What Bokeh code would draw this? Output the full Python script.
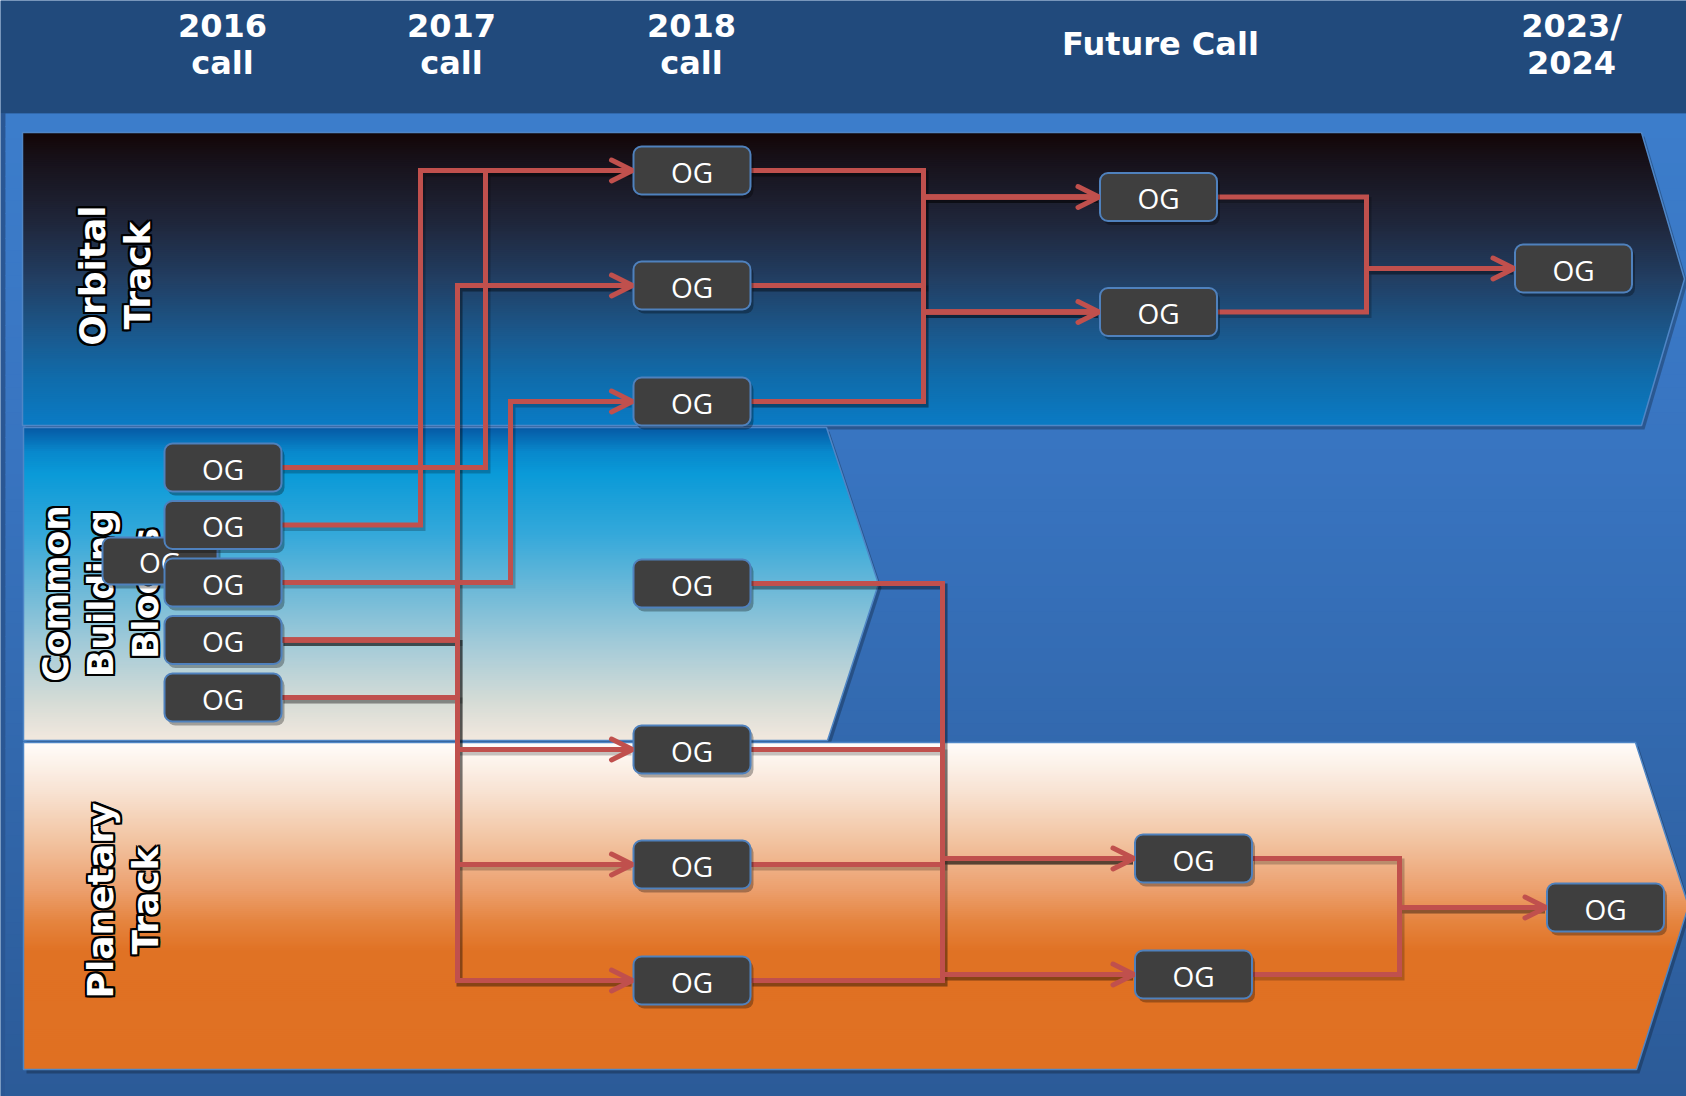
import numpy as np
from bokeh.plotting import figure
from bokeh.models import Range1d, Arrow, OpenHead, ColumnDataSource
from bokeh.core.properties import value
from bokeh.embed import file_html
from bokeh.resources import INLINE

# ---------------- data ----------------
header_line1 = ["2016", "2017", "2018", "Future Call", "2023/"]
header_line2 = ["call", "call", "call", "", "2024"]
header_x = [222, 451, 691, 1160, 1571]

track_lines = [["Orbital", "Track"], ["Common", "Building", "Blocks"], ["Planetary", "Track"]]
track_center_y = [275, 593, 900]
track_first_x = [92, 55, 100]

node_names = ["A1", "A2", "A3", "A4", "A5",
              "O1", "O2", "O3", "C1", "P1", "P2", "P3",
              "FO1", "FO2", "FP1", "FP2", "ZO", "ZP"]
node_x = [222.5, 222.5, 222.5, 222.5, 222.5,
          691.5, 691.5, 691.5, 691.5, 691.5, 691.5, 691.5,
          1158, 1158, 1193, 1193, 1573, 1605]
node_y = [467, 524.5, 582, 639.5, 697,
          170, 285, 401, 583, 749, 864, 980,
          196.5, 311.5, 858, 974, 268, 907]
node_label = "OG"
stray_x, stray_y = [159.5], [560.5]

# (source, target, x of the vertical connector)
edges = [("A1", "O1", 485), ("A2", "O1", 420), ("A3", "O3", 510),
         ("A4", "O2", 457), ("A4", "P1", 457), ("A4", "P2", 457), ("A4", "P3", 457),
         ("A5", "O2", 457), ("A5", "P3", 457),
         ("O1", "FO1", 923), ("O1", "FO2", 923), ("O2", "FO1", 923),
         ("O2", "FO2", 923), ("O3", "FO1", 923), ("O3", "FO2", 923),
         ("FO1", "ZO", 1366), ("FO2", "ZO", 1366),
         ("C1", "FP1", 942), ("C1", "FP2", 942), ("P1", "FP1", 942),
         ("P2", "FP1", 942), ("P3", "FP2", 942), ("P3", "FP1", 942),
         ("FP1", "ZP", 1399), ("FP2", "ZP", 1399)]

BW, BH = 117, 48
RED = "#c0504d"

# ---------------- helpers ----------------
def h2r(h):
    h = h.lstrip("#")
    return np.array([int(h[i:i + 2], 16) for i in (0, 2, 4)], dtype=float)

def grad(stops, t):
    for (t0, c0), (t1, c1) in zip(stops[:-1], stops[1:]):
        if t <= t1:
            f = 0 if t1 == t0 else (t - t0) / (t1 - t0)
            c = h2r(c0) * (1 - f) + h2r(c1) * f
            return "#%02x%02x%02x" % tuple(int(round(v)) for v in c)
    return stops[-1][1]

def chevron(x0, ytop, ybot, xr_top, xr_bot, xapex, n, stops):
    ymid = (ytop + ybot) / 2.0
    def right(y):
        if y <= ymid:
            f = (y - ytop) / (ymid - ytop)
            return xr_top + (xapex - xr_top) * f
        f = (y - ymid) / (ybot - ymid)
        return xapex + (xr_bot - xapex) * f
    ed = np.linspace(ytop, ybot, n + 1)
    xs, ys, cs = [], [], []
    for i in range(n):
        a, b = ed[i], min(ed[i + 1] + 1.0, ybot)
        px, py = [x0, right(a)], [a, a]
        if a < ymid < b:
            px.append(xapex); py.append(ymid)
        px += [right(b), x0]; py += [b, b]
        xs.append(px); ys.append(py)
        cs.append(grad(stops, ((a + b) / 2 - ytop) / (ybot - ytop)))
    outline = ([x0, xr_top, xapex, xr_bot, x0], [ytop, ytop, ymid, ybot, ybot])
    return xs, ys, cs, outline

# ---------------- figure ----------------
W, H = 1686, 1096
p = figure(width=W, height=H, x_range=Range1d(0, W), y_range=Range1d(H, 0),
           x_axis_type=None, y_axis_type=None, toolbar_location=None,
           output_backend="svg", min_border=0, outline_line_color=None,
           background_fill_color="#2f62a3", border_fill_color="#2f62a3")

# background
p.quad(left=0, right=1700, top=0, bottom=113, fill_color="#214a7c", line_color=None)
p.quad(left=0, right=5, top=113, bottom=1100, fill_color="#2a5794", line_color=None)
bg_stops = [(0, "#3c7dcb"), (0.35, "#3874c0"), (1, "#2b5a97")]
bge = np.linspace(113, 1096, 80)
p.quad(left=5, right=1700, top=bge[:-1], bottom=bge[1:] + 1,
       fill_color=[grad(bg_stops, (y - 113) / 983) for y in bge[:-1]], line_color=None)

# panels
orb_stops = [(0, "#130606"), (0.1, "#17111a"), (0.3, "#1f2539"), (0.5, "#223e62"),
             (0.7, "#1a5a8f"), (0.85, "#0f6dad"), (1, "#0a7bc4")]
cbb_stops = [(0, "#0658a3"), (0.08, "#0888cc"), (0.15, "#0a9ad8"), (0.35, "#36a9da"),
             (0.55, "#76bcd8"), (0.72, "#aacdd8"), (0.88, "#d6dcd6"), (1, "#f2e8de")]
pla_stops = [(0, "#fffdfb"), (0.15, "#f8e3d3"), (0.3, "#f2c4a2"), (0.45, "#eca06e"),
             (0.55, "#e5843f"), (0.64, "#e07224"), (1, "#e07022")]

panels = [chevron(22, 132, 425, 1641, 1641, 1684, 150, orb_stops),
          chevron(23, 427, 740, 826, 827, 878, 160, cbb_stops),
          chevron(23, 742, 1069, 1635, 1636, 1688, 165, pla_stops)]

for xs, ys, cs, (ox, oy) in panels:
    p.patch([x + 3 for x in ox], [y + 4 for y in oy], fill_color="black", fill_alpha=0.25, line_color=None)
for xs, ys, cs, (ox, oy) in panels:
    p.patches(xs, ys, fill_color=cs, line_color=None)
    p.patch(ox, oy, fill_color=None, line_color="#4f86c6", line_width=1.5)

# track labels (white with black outline, rotated)
offs = [(-2, -2), (-2, 0), (-2, 2), (0, -2), (0, 2), (2, -2), (2, 0), (2, 2), (-1, 2), (1, -2)]
lx, ly, lt = [], [], []
for lines, cy, fx in zip(track_lines, track_center_y, track_first_x):
    for k, t in enumerate(lines):
        lx.append(fx + 45 * k); ly.append(cy); lt.append(t)
lab = ColumnDataSource(dict(x=lx, y=ly, text=lt))
for dx, dy in offs:
    p.text(x="x", y="y", text="text", source=lab, angle=np.pi / 2, x_offset=dx, y_offset=dy,
           text_font=value("DejaVu Sans"), text_font_style="bold", text_font_size="36px",
           text_color="black", text_align="center", text_baseline="middle")
p.text(x="x", y="y", text="text", source=lab, angle=np.pi / 2,
       text_font=value("DejaVu Sans"), text_font_style="bold", text_font_size="36px",
       text_color="white", text_align="center", text_baseline="middle")

# header
p.text(x=header_x, y=[25, 25, 25, 43, 25], text=header_line1, text_font=value("DejaVu Sans"),
       text_font_style="bold", text_font_size="32px", text_color="white",
       text_align="center", text_baseline="middle")
p.text(x=header_x, y=[62] * 5, text=header_line2, text_font=value("DejaVu Sans"),
       text_font_style="bold", text_font_size="32px", text_color="white",
       text_align="center", text_baseline="middle")

# connectors
idx = {n: i for i, n in enumerate(node_names)}
pxs, pys = [], []
arrow_by_target = {}
for s, d, via in edges:
    sx = node_x[idx[s]] + BW / 2; sy = node_y[idx[s]]
    tx = node_x[idx[d]] - BW / 2; ty = node_y[idx[d]]
    pxs.append([sx, via, via, tx - 4]); pys.append([sy, sy, ty, ty])
    arrow_by_target[d] = (min(via, arrow_by_target.get(d, (1e9, 0))[0]), ty, tx)

p.multi_line([[x + 2 for x in xs] for xs in pxs], [[y + 3 for y in ys] for ys in pys],
             line_color="black", line_alpha=0.22, line_width=6, line_join="miter")
p.multi_line(pxs, pys, line_color=RED, line_width=5, line_join="miter")

asrc = ColumnDataSource(dict(x0=[v[0] for v in arrow_by_target.values()],
                             y0=[v[1] for v in arrow_by_target.values()],
                             x1=[v[2] - 1 for v in arrow_by_target.values()],
                             y1=[v[1] for v in arrow_by_target.values()]))
p.add_layout(Arrow(end=OpenHead(size=21, line_color=RED, line_width=5, line_cap="round"),
                   x_start="x0", y_start="y0", x_end="x1", y_end="y1", source=asrc,
                   line_color=RED, line_width=5))

# boxes
def boxes(xs, ys, w=BW, h=BH):
    xs = np.asarray(xs, float); ys = np.asarray(ys, float)
    p.quad(left=xs - w / 2 + 3, right=xs + w / 2 + 3, top=ys - h / 2 + 4, bottom=ys + h / 2 + 4,
           fill_color="black", fill_alpha=0.3, line_color=None, border_radius=8)
    p.quad(left=xs - w / 2, right=xs + w / 2, top=ys - h / 2, bottom=ys + h / 2,
           fill_color="#3f3f3f", line_color="#4f81bd", line_width=2, border_radius=8)
    p.text(x=xs, y=ys + 1, text=[node_label] * len(xs), text_font=value("Open Sans"),
           text_font_size="28px", text_color="white", text_align="center", text_baseline="middle")

boxes(stray_x, stray_y, w=115, h=47)
boxes(node_x, node_y)

open("out.html", "w").write(file_html(p, INLINE))
